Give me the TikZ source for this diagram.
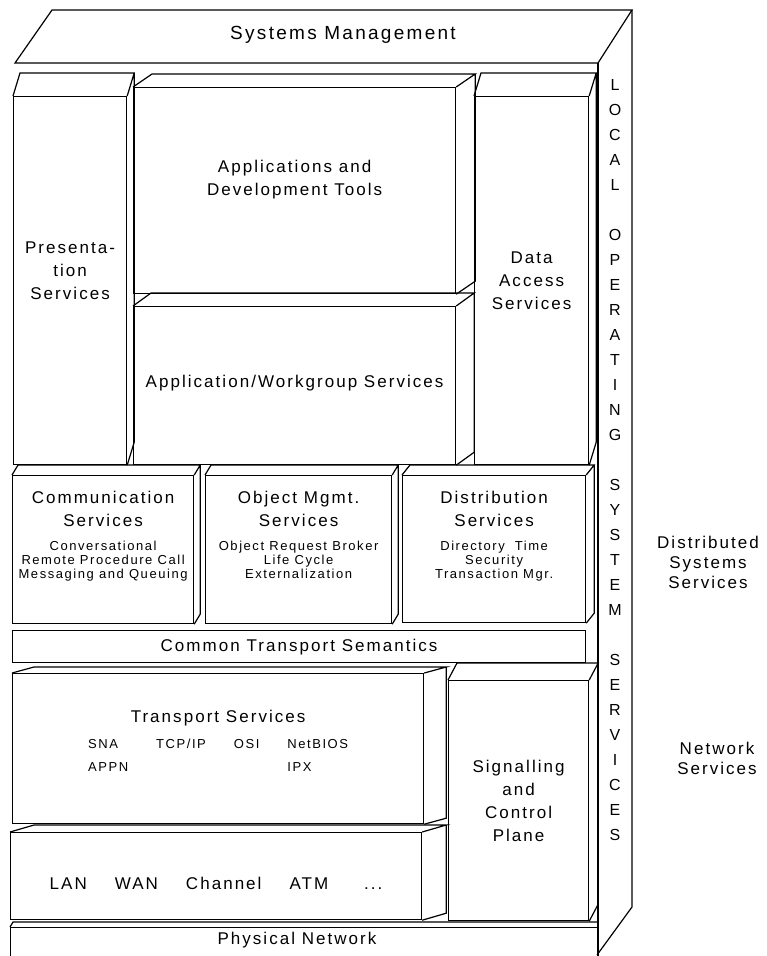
\documentclass[tikz,border=0pt]{standalone}
\usepackage{fontspec}
\setmainfont{Liberation Sans}
\newfontfamily\bitfont[LetterSpace=12]{Liberation Sans}
\usetikzlibrary{positioning,calc}

\newcommand{\titlefnt}{\bitfont\fontsize{19}{23}\selectfont}
\newcommand{\mainfnt}{\bitfont\fontsize{17}{23}\selectfont}
\newcommand{\subfnt}{\bitfont\fontsize{13}{14}\selectfont}
\newcommand{\sidefnt}{\bitfont\fontsize{17}{20}\selectfont}
\newcommand{\stackfnt}{\bitfont\fontsize{16}{25}\selectfont}

% top face and right face seen behind a front box
\newcommand{\drawslab}[3]{%
  \draw[rim] (#1.north west) -- ++(#2,#3) -- ($(#1.north east)+(#2,#3)$) -- (#1.north east)
    ($(#1.north east)+(#2,#3)$) -- ($(#1.south east)+(#2,#3)$) -- (#1.south east);}

\tikzset{
  rim/.style={line width=1.2pt},
  box/.style={draw, rim, anchor=north west, inner sep=0pt},
  lbl/.style={inner sep=0pt, align=center, font=\mainfnt},
  smalltxt/.style={inner sep=0pt, align=center, font=\subfnt},
}

\begin{document}
\begin{tikzpicture}[x=1pt, y=-1pt]
  \useasboundingbox (0,0) rectangle (766,956);
  \clip (0,0) rectangle (766,956);

  % cabinet top and side panel
  \draw[rim] (52,10) -- (632,10) -- (598,63) -- (15,63) -- cycle;
  \draw[rim] (632,10) -- (632,907) -- (597,955);
  \draw[rim] (598,63) -- (598,960);
  \node[lbl, font=\titlefnt] (sysmgmt) at (343,35) {Systems Management};

  % application layer
  \node[box, minimum width=113pt, minimum height=368pt] (pres) at (13,96) {};
  \node[box, minimum width=322pt, minimum height=206pt] (appdev) at (133,87) {};
  \node[box, minimum width=322pt, minimum height=158pt] (appwg) at (133,306) {};
  \node[box, minimum width=114pt, minimum height=368pt] (data) at (474,96) {};
  \drawslab{pres}{7}{-23}
  \drawslab{appdev}{19}{-13}
  \drawslab{appwg}{18}{-13}
  \drawslab{data}{7}{-23}
  \node[lbl] (prestxt) at ($(pres.center)+(0,-10)$) {Presenta-\\tion\\Services};
  \node[lbl] (appdevtxt) at ($(appdev.center)+(0,-11)$) {Applications and\\Development Tools};
  \node[lbl] (appwgtxt) at ($(appwg.center)+(0,-3)$) {Application/Workgroup Services};
  \node[lbl] (datatxt) at (data.center) {Data\\Access\\Services};

  % distributed services
  \node[box, minimum width=181pt, minimum height=148pt] (comm) at (12,475) {};
  \node[box, minimum width=186pt, minimum height=148pt] (obj) at (205,475) {};
  \node[box, minimum width=183pt, minimum height=147pt] (dist) at (402,475) {};
  \drawslab{comm}{6}{-10}
  \drawslab{obj}{6}{-10}
  \drawslab{dist}{8}{-10}
  \node[lbl, below=16pt of comm.north] (commtxt) {Communication\\Services};
  \node[smalltxt, below=14pt of commtxt] (commsub) {Conversational\\Remote Procedure Call\\Messaging and Queuing};
  \node[lbl, below=16pt of obj.north] (objtxt) {Object Mgmt.\\Services};
  \node[smalltxt, below=14pt of objtxt] (objsub) {Object Request Broker\\Life Cycle\\Externalization};
  \node[lbl, below=16pt of dist.north] (disttxt) {Distribution\\Services};
  \node[smalltxt, below=14pt of disttxt] (distsub) {Directory\hspace{10pt}Time\\Security\\Transaction Mgr.};

  \node[box, minimum width=573pt, minimum height=32pt] (cts) at (12,630) {};
  \node[lbl] (ctstxt) at (cts.center) {Common Transport Semantics};

  % network services
  \node[box, minimum width=411pt, minimum height=150pt] (trans) at (12,673) {};
  \node[box, minimum width=140pt, minimum height=240pt] (signal) at (448,680) {};
  \node[box, minimum width=411pt, minimum height=87pt] (lan) at (10,832) {};
  \node[box, minimum width=587pt, minimum height=40pt] (phys) at (10,927) {};
  \drawslab{trans}{22}{-6}
  \drawslab{signal}{9}{-17}
  \drawslab{lan}{24}{-7}
  \draw[rim] (phys.north west) -- ++(3,-5) -- (597,922);
  \node[lbl] (transtxt) at ($(trans.center)+(0,-6)$) {Transport Services\\[12pt]
    {\subfnt\begin{tabular}{@{}l@{\hspace{28pt}}l@{\hspace{28pt}}l@{\hspace{28pt}}l@{}}
      SNA & TCP/IP & OSI & NetBIOS\\[9pt]
      APPN & & & IPX
    \end{tabular}}};
  \node[lbl] (signaltxt) at (signal.center) {Signalling\\and\\Control\\Plane};
  \node[lbl] (lantxt) at ($(lan.center)+(0,7)$) {LAN\hspace{28pt}WAN\hspace{28pt}Channel\hspace{28pt}ATM\hspace{36pt}...};
  \node[lbl] (phystxt) at (297,940) {Physical Network};

  % side panel lettering and outer labels
  \node[lbl, font=\stackfnt] (lossvc) at (615,460)
    {L\\O\\C\\A\\L\\[25pt]O\\P\\E\\R\\A\\T\\I\\N\\G\\[25pt]S\\Y\\S\\T\\E\\M\\[25pt]S\\E\\R\\V\\I\\C\\E\\S};
  \node[lbl, font=\sidefnt] (dsvc) at (708,562) {Distributed\\Systems\\Services};
  \node[lbl, font=\sidefnt] (netsvc) at (717,758) {Network\\Services};
\end{tikzpicture}
\end{document}
